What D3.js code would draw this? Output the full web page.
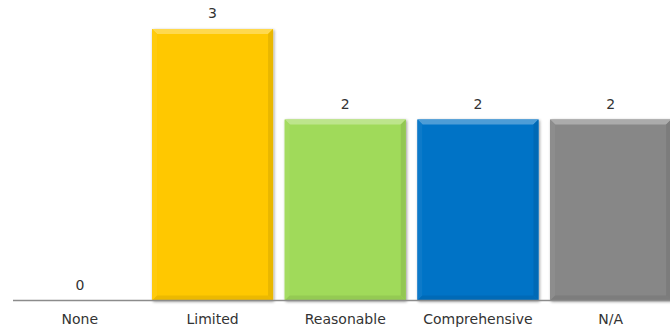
<!DOCTYPE html>
<html>
<head>
<meta charset="utf-8">
<script src="https://cdn.jsdelivr.net/npm/d3@7"></script>
<style>
  html, body { margin: 0; padding: 0; background: #ffffff; }
  svg { display: block; }
  text { font-family: "DejaVu Sans", sans-serif; fill: #333333; }
</style>
</head>
<body>
<svg id="chart" width="670" height="331"></svg>
<script>
// Chart data
const categories = ["None", "Limited", "Reasonable", "Comprehensive", "N/A"];
const values = [0, 3, 2, 2, 2];
const colors = ["#a0a0a0", "#ffc800", "#a0da5a", "#0073c6", "#878787"];

const svg = d3.select("#chart");
const baseY = 300.5;
const topY = 29;

const x = d3.scaleBand()
  .domain(categories)
  .range([13.5, 677])
  .paddingInner(0.088)
  .paddingOuter(0.044);

const y = d3.scaleLinear()
  .domain([0, 3])
  .range([baseY, topY]);

const defs = svg.append("defs");
const shadow = defs.append("filter").attr("id", "shadow")
  .attr("x", "-10%").attr("y", "-10%").attr("width", "120%").attr("height", "120%");
shadow.append("feGaussianBlur").attr("in", "SourceAlpha").attr("stdDeviation", 1.6).attr("result", "b");
shadow.append("feOffset").attr("in", "b").attr("dx", 0.5).attr("dy", 1).attr("result", "o");
shadow.append("feComponentTransfer").attr("in", "o").attr("result", "s")
  .append("feFuncA").attr("type", "linear").attr("slope", 0.4);
const m = shadow.append("feMerge");
m.append("feMergeNode").attr("in", "s");
m.append("feMergeNode").attr("in", "SourceGraphic");

const data = categories.map((c, i) => ({ c, v: values[i], color: colors[i] }));
const bw = x.bandwidth();
const bev = 5;

const bars = svg.append("g").selectAll("g.bar")
  .data(data.filter(d => d.v > 0))
  .join("g")
  .attr("class", "bar")
  .attr("filter", "url(#shadow)");

bars.each(function (d) {
  const g = d3.select(this);
  const x0 = x(d.c), x1 = x0 + bw;
  const y0 = y(d.v), y1 = y(0);
  const base = d3.color(d.color);
  g.append("rect")
    .attr("x", x0).attr("y", y0)
    .attr("width", bw).attr("height", y1 - y0)
    .attr("fill", d.color);
  // bevel faces: lit top, soft left, shaded right and bottom
  const faces = [
    { pts: [[x0, y0], [x1, y0], [x1 - bev, y0 + bev], [x0 + bev, y0 + bev]], c: d3.interpolateRgb(d.color, "#ffffff")(0.3) },
    { pts: [[x0, y0], [x0 + bev, y0 + bev], [x0 + bev, y1 - bev], [x0, y1]], c: d3.interpolateRgb(d.color, "#ffffff")(0.05) },
    { pts: [[x1, y0], [x1, y1], [x1 - bev, y1 - bev], [x1 - bev, y0 + bev]], c: base.darker(0.25).formatHex() },
    { pts: [[x0, y1], [x0 + bev, y1 - bev], [x1 - bev, y1 - bev], [x1, y1]], c: base.darker(0.22).formatHex() }
  ];
  faces.forEach(f => {
    g.append("polygon")
      .attr("points", f.pts.map(p => p.join(",")).join(" "))
      .attr("fill", f.c);
  });
});

// baseline axis
svg.append("line")
  .attr("x1", 13).attr("x2", 670)
  .attr("y1", baseY).attr("y2", baseY)
  .attr("stroke", "#8c8c8c").attr("stroke-width", 1.5);

// value labels
svg.append("g").selectAll("text")
  .data(data)
  .join("text")
  .attr("x", d => x(d.c) + bw / 2)
  .attr("y", d => y(d.v) - 11)
  .attr("text-anchor", "middle")
  .attr("font-size", 14)
  .text(d => d.v);

// category labels
svg.append("g").selectAll("text")
  .data(categories)
  .join("text")
  .attr("x", d => x(d) + bw / 2)
  .attr("y", 324)
  .attr("text-anchor", "middle")
  .attr("font-size", 14)
  .text(d => d);
</script>
</body>
</html>
